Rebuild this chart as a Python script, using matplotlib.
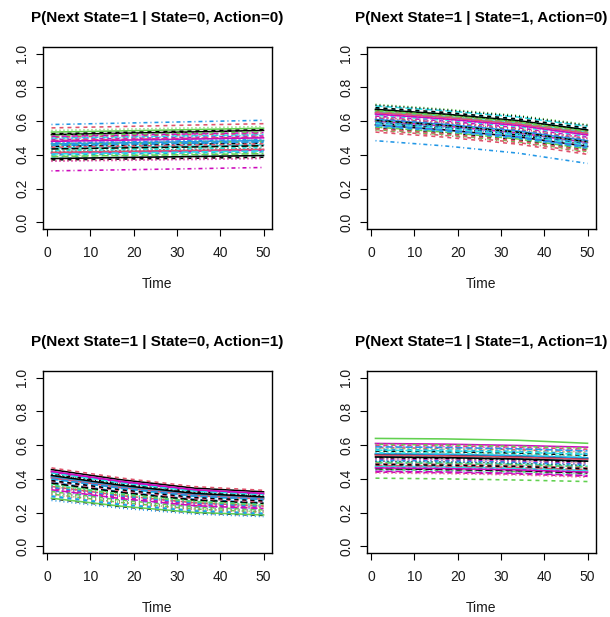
"""Posterior draws of time-varying transition probabilities, one panel per (state, action)."""
import matplotlib.pyplot as plt
import numpy as np

plt.rcParams["font.family"] = ["Liberation Sans", "DejaVu Sans"]
plt.rcParams["lines.scale_dashes"] = False

time_points = [1, 17, 34, 50]

# P(next=1 | state=0, action=0): one value per draw at each time point
s0a0_t1 = [0.520, 0.560, 0.545, 0.580, 0.500, 0.410, 0.370, 0.470, 0.430, 0.455,
           0.440, 0.490, 0.420, 0.505, 0.390, 0.465, 0.380, 0.362, 0.450, 0.485,
           0.535, 0.400, 0.475, 0.305, 0.435, 0.415, 0.460, 0.495, 0.425, 0.510,
           0.378, 0.445, 0.395, 0.470, 0.405, 0.480, 0.525, 0.365, 0.515, 0.458]
s0a0_t17 = [0.528, 0.568, 0.552, 0.588, 0.507, 0.416, 0.375, 0.477, 0.436, 0.461,
            0.446, 0.497, 0.426, 0.512, 0.396, 0.471, 0.385, 0.367, 0.456, 0.492,
            0.542, 0.406, 0.482, 0.311, 0.441, 0.421, 0.466, 0.502, 0.431, 0.517,
            0.384, 0.451, 0.401, 0.477, 0.411, 0.487, 0.533, 0.370, 0.522, 0.464]
s0a0_t34 = [0.536, 0.577, 0.560, 0.597, 0.514, 0.422, 0.380, 0.484, 0.442, 0.468,
            0.452, 0.504, 0.432, 0.520, 0.401, 0.478, 0.391, 0.372, 0.463, 0.499,
            0.550, 0.412, 0.489, 0.318, 0.447, 0.427, 0.473, 0.509, 0.437, 0.525,
            0.390, 0.458, 0.407, 0.484, 0.417, 0.494, 0.541, 0.376, 0.530, 0.471]
s0a0_t50 = [0.545, 0.585, 0.568, 0.605, 0.521, 0.428, 0.386, 0.491, 0.449, 0.475,
            0.459, 0.512, 0.438, 0.527, 0.407, 0.485, 0.396, 0.378, 0.470, 0.506,
            0.558, 0.418, 0.496, 0.325, 0.454, 0.433, 0.480, 0.516, 0.443, 0.532,
            0.396, 0.465, 0.413, 0.491, 0.423, 0.501, 0.549, 0.381, 0.537, 0.478]

# P(next=1 | state=1, action=0)
s1a0_t1 = [0.578, 0.535, 0.700, 0.484, 0.690, 0.600, 0.560, 0.640, 0.620, 0.595,
           0.655, 0.630, 0.695, 0.545, 0.565, 0.610, 0.675, 0.625, 0.588, 0.660,
           0.665, 0.570, 0.645, 0.615, 0.605, 0.650, 0.550, 0.590, 0.635, 0.580,
           0.670, 0.555, 0.602, 0.612, 0.585, 0.642, 0.680, 0.622, 0.662, 0.575]
s1a0_t17 = [0.548, 0.505, 0.672, 0.453, 0.662, 0.571, 0.530, 0.611, 0.591, 0.566,
            0.627, 0.601, 0.667, 0.515, 0.535, 0.581, 0.647, 0.596, 0.559, 0.632,
            0.637, 0.540, 0.617, 0.586, 0.576, 0.622, 0.520, 0.561, 0.606, 0.550,
            0.642, 0.525, 0.573, 0.583, 0.556, 0.613, 0.652, 0.593, 0.634, 0.545]
s1a0_t34 = [0.507, 0.463, 0.634, 0.410, 0.624, 0.530, 0.489, 0.572, 0.551, 0.525,
            0.587, 0.561, 0.629, 0.473, 0.494, 0.541, 0.608, 0.556, 0.518, 0.593,
            0.598, 0.499, 0.577, 0.546, 0.535, 0.582, 0.478, 0.520, 0.567, 0.509,
            0.603, 0.483, 0.532, 0.543, 0.515, 0.574, 0.613, 0.553, 0.595, 0.504]
s1a0_t50 = [0.450, 0.403, 0.580, 0.349, 0.569, 0.473, 0.430, 0.516, 0.494, 0.468,
            0.532, 0.505, 0.575, 0.414, 0.436, 0.484, 0.553, 0.500, 0.460, 0.537,
            0.543, 0.441, 0.521, 0.489, 0.478, 0.527, 0.420, 0.462, 0.510, 0.452,
            0.548, 0.425, 0.475, 0.486, 0.457, 0.518, 0.559, 0.497, 0.539, 0.446]

# P(next=1 | state=0, action=1)
s0a1_t1 = [0.455, 0.465, 0.360, 0.330, 0.400, 0.440, 0.282, 0.350, 0.310, 0.380,
           0.415, 0.390, 0.425, 0.340, 0.370, 0.410, 0.300, 0.320, 0.430, 0.355,
           0.285, 0.295, 0.395, 0.345, 0.375, 0.405, 0.325, 0.272, 0.365, 0.335,
           0.420, 0.385, 0.315, 0.350, 0.435, 0.445, 0.390, 0.305, 0.360, 0.400]
s0a1_t17 = [0.395, 0.405, 0.306, 0.278, 0.343, 0.381, 0.235, 0.297, 0.260, 0.324,
            0.357, 0.334, 0.367, 0.287, 0.315, 0.352, 0.251, 0.269, 0.371, 0.301,
            0.238, 0.247, 0.338, 0.292, 0.320, 0.348, 0.274, 0.226, 0.310, 0.283,
            0.362, 0.329, 0.265, 0.299, 0.376, 0.386, 0.336, 0.256, 0.308, 0.345]
s0a1_t34 = [0.345, 0.354, 0.262, 0.237, 0.296, 0.332, 0.199, 0.254, 0.221, 0.279,
            0.309, 0.288, 0.318, 0.245, 0.271, 0.305, 0.213, 0.229, 0.323, 0.258,
            0.201, 0.209, 0.292, 0.250, 0.275, 0.301, 0.233, 0.191, 0.266, 0.241,
            0.314, 0.283, 0.225, 0.256, 0.327, 0.336, 0.290, 0.217, 0.264, 0.298]
s0a1_t50 = [0.323, 0.332, 0.243, 0.220, 0.276, 0.310, 0.183, 0.235, 0.204, 0.259,
            0.288, 0.268, 0.297, 0.227, 0.251, 0.284, 0.197, 0.212, 0.301, 0.239,
            0.186, 0.193, 0.272, 0.231, 0.255, 0.280, 0.216, 0.176, 0.247, 0.224,
            0.293, 0.263, 0.208, 0.237, 0.306, 0.314, 0.270, 0.200, 0.245, 0.278]

# P(next=1 | state=1, action=1)
s1a1_t1 = [0.545, 0.600, 0.560, 0.470, 0.500, 0.610, 0.565, 0.520, 0.455, 0.530,
           0.475, 0.440, 0.505, 0.585, 0.495, 0.550, 0.535, 0.595, 0.525, 0.480,
           0.640, 0.575, 0.450, 0.515, 0.460, 0.540, 0.404, 0.490, 0.555, 0.445,
           0.530, 0.490, 0.580, 0.510, 0.570, 0.465, 0.485, 0.435, 0.605, 0.590]
s1a1_t17 = [0.541, 0.596, 0.556, 0.466, 0.496, 0.606, 0.561, 0.516, 0.451, 0.526,
            0.471, 0.436, 0.501, 0.581, 0.491, 0.546, 0.531, 0.591, 0.521, 0.476,
            0.637, 0.571, 0.446, 0.511, 0.456, 0.536, 0.400, 0.486, 0.551, 0.441,
            0.526, 0.486, 0.576, 0.506, 0.566, 0.461, 0.481, 0.431, 0.601, 0.586]
s1a1_t34 = [0.533, 0.588, 0.548, 0.458, 0.488, 0.598, 0.553, 0.508, 0.443, 0.518,
            0.463, 0.428, 0.493, 0.573, 0.483, 0.538, 0.523, 0.583, 0.513, 0.468,
            0.629, 0.563, 0.438, 0.503, 0.448, 0.528, 0.393, 0.478, 0.543, 0.433,
            0.518, 0.478, 0.568, 0.498, 0.558, 0.453, 0.473, 0.423, 0.593, 0.578]
s1a1_t50 = [0.520, 0.576, 0.535, 0.445, 0.475, 0.588, 0.540, 0.495, 0.430, 0.505,
            0.450, 0.415, 0.480, 0.560, 0.470, 0.525, 0.510, 0.570, 0.500, 0.455,
            0.611, 0.550, 0.425, 0.490, 0.435, 0.515, 0.384, 0.465, 0.530, 0.420,
            0.505, 0.465, 0.555, 0.485, 0.545, 0.440, 0.460, 0.410, 0.582, 0.566]

x_ticks = [0, 10, 20, 30, 40, 50]
y_ticks = [0.0, 0.2, 0.4, 0.6, 0.8, 1.0]
y_tick_labels = ["0.0", "0.2", "0.4", "0.6", "0.8", "1.0"]

# R's default palette and line types, recycled across columns like matplot
PALETTE = ["#000000", "#DF536B", "#61D04F", "#2297E6", "#28E2E5", "#CD0BBC"]
PX = 0.72  # one pixel in points at 100 dpi
LTYS = [
    "-",
    (0, (4 * PX, 4 * PX)),
    (0, (1 * PX, 3 * PX)),
    (0, (1 * PX, 3 * PX, 4 * PX, 3 * PX)),
    (0, (7 * PX, 3 * PX)),
]

PANELS = [
    ("P(Next State=1 | State=0, Action=0)", [s0a0_t1, s0a0_t17, s0a0_t34, s0a0_t50], (43, 47)),
    ("P(Next State=1 | State=1, Action=0)", [s1a0_t1, s1a0_t17, s1a0_t34, s1a0_t50], (367, 47)),
    ("P(Next State=1 | State=0, Action=1)", [s0a1_t1, s0a1_t17, s0a1_t34, s0a1_t50], (43, 371)),
    ("P(Next State=1 | State=1, Action=1)", [s1a1_t1, s1a1_t17, s1a1_t34, s1a1_t50], (367, 371)),
]

W, H = 610, 617
BOX_W, BOX_H = 229, 182


def draw_panel(ax, title, columns):
    curves = np.column_stack(columns)
    for j, row in enumerate(curves):
        ax.plot(time_points, row, color=PALETTE[j % len(PALETTE)],
                linestyle=LTYS[j % len(LTYS)], lw=1.15)

    ax.set_xlim(-0.96, 51.96)
    ax.set_ylim(-0.04, 1.04)
    ax.set_xticks(x_ticks)
    ax.set_yticks(y_ticks)
    ax.set_yticklabels(y_tick_labels, rotation=90, va="center")
    ax.tick_params(direction="out", length=5, width=0.8, labelsize=10,
                   color="black", labelcolor="#1a1a1a")
    ax.tick_params(axis="x", pad=7)
    ax.tick_params(axis="y", pad=5)
    for spine in ax.spines.values():
        spine.set_linewidth(1.0)
    ax.set_title(title, fontsize=11, fontweight="bold", pad=18)
    ax.text(0.5, -0.3, "Time", transform=ax.transAxes, ha="center",
            va="center", fontsize=10, color="#1a1a1a")


fig = plt.figure(figsize=(W / 100, H / 100), dpi=100)
for title, columns, (left, top) in PANELS:
    ax = fig.add_axes([left / W, 1 - (top + BOX_H) / H, BOX_W / W, BOX_H / H])
    draw_panel(ax, title, columns)

fig.savefig("out.png", dpi=100)
